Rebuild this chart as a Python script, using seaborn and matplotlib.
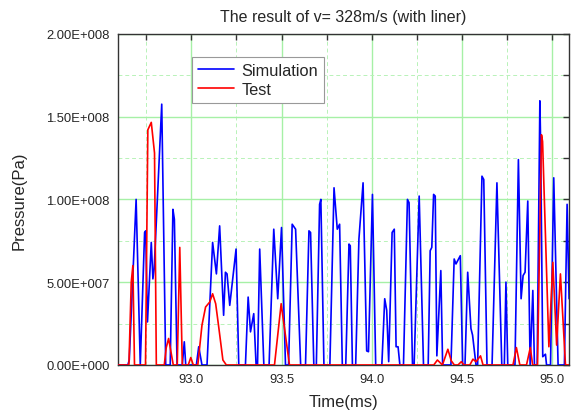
import pandas as pd
import matplotlib
matplotlib.use('Agg')
import matplotlib.pyplot as plt
from matplotlib.ticker import MultipleLocator, FuncFormatter
import seaborn as sns

# Simulation curve (time in ms, pressure in 1e8 Pa)
sim_t = [92.594, 92.648, 92.656, 92.694, 92.717, 92.741, 92.747, 92.757, 92.778, 92.787,
         92.794, 92.836, 92.858, 92.883, 92.898, 92.906, 92.921, 92.950, 92.961, 92.969,
         93.028, 93.041, 93.059, 93.087, 93.118, 93.139, 93.157, 93.179, 93.189, 93.198,
         93.213, 93.248, 93.263, 93.300, 93.315, 93.328, 93.346, 93.359, 93.367, 93.379,
         93.402, 93.431, 93.457, 93.479, 93.500, 93.522, 93.539, 93.559, 93.578, 93.606,
         93.633, 93.652, 93.661, 93.679, 93.693, 93.711, 93.718, 93.735, 93.768, 93.791,
         93.809, 93.822, 93.837, 93.856, 93.874, 93.881, 93.893, 93.911, 93.929, 93.952,
         93.972, 93.982, 94.004, 94.022, 94.056, 94.072, 94.083, 94.094, 94.113, 94.125,
         94.135, 94.146, 94.156, 94.176, 94.198, 94.207, 94.226, 94.235, 94.263, 94.287,
         94.313, 94.324, 94.333, 94.343, 94.352, 94.361, 94.383, 94.393, 94.439, 94.457,
         94.467, 94.491, 94.504, 94.517, 94.532, 94.550, 94.559, 94.578, 94.587, 94.611,
         94.621, 94.639, 94.667, 94.694, 94.721, 94.735, 94.744, 94.754, 94.794, 94.813,
         94.828, 94.839, 94.850, 94.865, 94.878, 94.893, 94.902, 94.917, 94.932, 94.936,
         94.948, 94.963, 94.969, 94.991, 95.009, 95.033, 95.068, 95.083, 95.094]
sim_p = [0.00, 0.00, 0.03, 1.00, 0.00, 0.80, 0.81, 0.26, 0.74, 0.52,
         0.58, 1.575, 0.00, 0.00, 0.94, 0.88, 0.00, 0.00, 0.14, 0.00,
         0.00, 0.11, 0.00, 0.00, 0.74, 0.55, 0.84, 0.30, 0.56, 0.55,
         0.36, 0.70, 0.00, 0.00, 0.41, 0.20, 0.31, 0.00, 0.00, 0.70,
         0.00, 0.00, 0.82, 0.40, 0.83, 0.00, 0.00, 0.85, 0.82, 0.00,
         0.00, 0.81, 0.80, 0.00, 0.00, 0.97, 1.00, 0.00, 0.00, 1.07,
         0.82, 0.85, 0.00, 0.00, 0.73, 0.72, 0.00, 0.00, 0.76, 1.10,
         0.085, 0.08, 1.03, 0.00, 0.00, 0.40, 0.33, 0.02, 0.80, 0.82,
         0.11, 0.11, 0.00, 0.00, 1.00, 0.98, 0.00, 0.00, 1.02, 0.00,
         0.00, 0.69, 0.71, 1.03, 1.02, 0.055, 0.57, 0.00, 0.00, 0.64,
         0.61, 0.66, 0.00, 0.00, 0.56, 0.22, 0.18, 0.00, 0.00, 1.14,
         1.12, 0.00, 0.00, 1.10, 0.00, 0.00, 0.50, 0.00, 0.00, 1.24,
         0.40, 0.54, 0.56, 0.99, 0.00, 0.45, 0.00, 0.00, 1.595, 1.36,
         0.05, 0.065, 0.00, 0.00, 1.13, 0.00, 0.00, 0.97, 0.40]

# Test curve
test_t = [92.594, 92.654, 92.667, 92.676, 92.685, 92.746, 92.759, 92.778, 92.796, 92.806,
          92.850, 92.861, 92.874, 92.900, 92.922, 92.936, 92.950, 92.983, 92.997, 93.011,
          93.036, 93.059, 93.079, 93.102, 93.118, 93.135, 93.153, 93.175, 93.194, 93.461,
          93.498, 93.544, 94.344, 94.364, 94.392, 94.422, 94.441, 94.458, 94.478, 94.497,
          94.511, 94.544, 94.561, 94.578, 94.603, 94.617, 94.783, 94.802, 94.821, 94.858,
          94.879, 94.892, 94.919, 94.941, 94.947, 94.982, 95.004, 95.025, 95.046, 95.074,
          95.100]
test_p = [0.00, 0.00, 0.50, 0.60, 0.00, 0.00, 1.42, 1.465, 1.28, 0.00,
          0.00, 0.105, 0.16, 0.00, 0.00, 0.71, 0.00, 0.00, 0.045, 0.00,
          0.00, 0.24, 0.35, 0.38, 0.43, 0.37, 0.22, 0.03, 0.00, 0.00,
          0.37, 0.00, 0.00, 0.03, 0.00, 0.095, 0.025, 0.00, 0.00, 0.02,
          0.00, 0.00, 0.035, 0.02, 0.055, 0.00, 0.00, 0.105, 0.00, 0.00,
          0.105, 0.00, 0.00, 1.39, 1.35, 0.11, 0.62, 0.12, 0.55, 0.00,
          0.00]

sim_df = pd.DataFrame({'time': sim_t, 'pressure': [p * 1e8 for p in sim_p]})
test_df = pd.DataFrame({'time': test_t, 'pressure': [p * 1e8 for p in test_p]})

sns.set_style('white')
plt.rcParams['font.family'] = ['Liberation Sans', 'DejaVu Sans']

fig = plt.figure(figsize=(5.76, 4.14), dpi=100)
ax = fig.add_axes([0.205, 0.116, 0.783, 0.800])

sns.lineplot(data=sim_df, x='time', y='pressure', color='#0000ff', lw=1.2,
             sort=False, label='Simulation', ax=ax, zorder=3)
sns.lineplot(data=test_df, x='time', y='pressure', color='#ff0000', lw=1.2,
             sort=False, label='Test', ax=ax, zorder=4)

ax.set_xlim(92.594, 95.094)
ax.set_ylim(0, 2e8)
ax.xaxis.set_major_locator(MultipleLocator(0.5))
ax.xaxis.set_minor_locator(MultipleLocator(0.25))
ax.yaxis.set_major_locator(MultipleLocator(0.5e8))
ax.yaxis.set_minor_locator(MultipleLocator(0.25e8))
ax.xaxis.set_major_formatter(FuncFormatter(lambda v, pos: f"{v:.1f}"))


def sci_fmt(v, pos):
    m, e = f"{v:.2E}".split('E')
    sign = '-' if int(e) < 0 else '+'
    return f"{m}E{sign}{abs(int(e)):03d}"


ax.yaxis.set_major_formatter(FuncFormatter(sci_fmt))

ax.grid(which='major', color='#a6f0a6', lw=1.0, ls='-', zorder=0)
ax.grid(which='minor', color='#b8f2b8', lw=0.7, ls=(0, (4, 3)), zorder=0)
ax.set_axisbelow(True)

ax.tick_params(which='both', direction='in', top=True, right=True, length=4,
               width=1, color='#333333', labelsize=9.4, pad=6)
for s in ax.spines.values():
    s.set_color('#333333')
    s.set_linewidth(1.0)

ax.set_title('The result of v= 328m/s (with liner)', fontsize=11.5, pad=9)
ax.set_xlabel('Time(ms)', fontsize=12, labelpad=6)
ax.set_ylabel('Pressure(Pa)', fontsize=12, labelpad=14)

leg = ax.legend(loc='upper left', bbox_to_anchor=(0.165, 0.93), borderaxespad=0,
                fancybox=False, framealpha=1, edgecolor='#999999', fontsize=11.8,
                handlelength=2.2, handletextpad=0.45, borderpad=0.35, labelspacing=0.25)
leg.get_frame().set_linewidth(0.8)

plt.savefig('out.png', dpi=100)
